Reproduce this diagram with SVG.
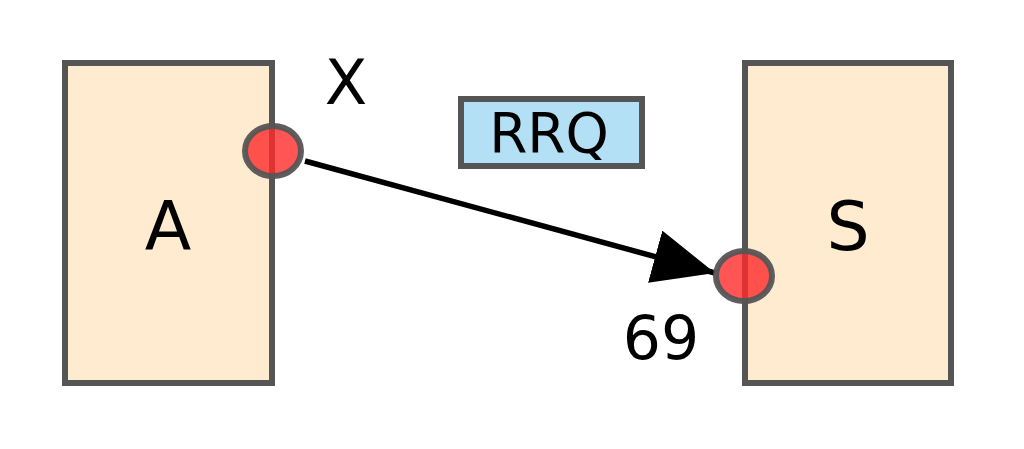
<svg xmlns="http://www.w3.org/2000/svg" width="1024" height="449" viewBox="0 0 1024 449">
<style>
.box{fill:#ffecd0;stroke:#555555;stroke-width:6}
.port{fill:#ff2a2a;fill-opacity:0.8;stroke:#555555;stroke-opacity:0.95;stroke-width:6}
.lbl{fill:#b3e0f4;stroke:#555555;stroke-width:6}
text{font-family:"DejaVu Sans",sans-serif;fill:#000}
</style>
<defs>
<marker id="arr" markerUnits="userSpaceOnUse" markerWidth="70" markerHeight="60" refX="62" refY="27" orient="auto">
<path d="M0,0 L62,27 L0,54 Z" fill="#000"/>
</marker>
</defs>
<rect width="1024" height="449" fill="#fff"/>
<g id="node-A">
<rect class="box" x="65" y="63" width="207" height="320"/>
<text x="168" y="250" font-size="68" text-anchor="middle">A</text>
</g>
<g id="node-S">
<rect class="box" x="745" y="63" width="206" height="320"/>
<text x="848" y="250" font-size="68" text-anchor="middle">S</text>
</g>
<g id="label-RRQ">
<rect class="lbl" x="461" y="99" width="181" height="67"/>
<text x="549" y="152" font-size="55" text-anchor="middle">RRQ</text>
</g>
<g id="connectors">
<line x1="305" y1="161" x2="715" y2="273" stroke="#000" stroke-width="5.5" marker-end="url(#arr)"/>
</g>
<g id="ports">
<ellipse class="port" cx="273" cy="151" rx="28" ry="25"/>
<ellipse class="port" cx="744" cy="276" rx="28" ry="25"/>
</g>
<g id="texts">
<text x="346" y="104" font-size="62" text-anchor="middle">X</text>
<text x="661" y="359" font-size="60" text-anchor="middle">69</text>
</g>
</svg>
